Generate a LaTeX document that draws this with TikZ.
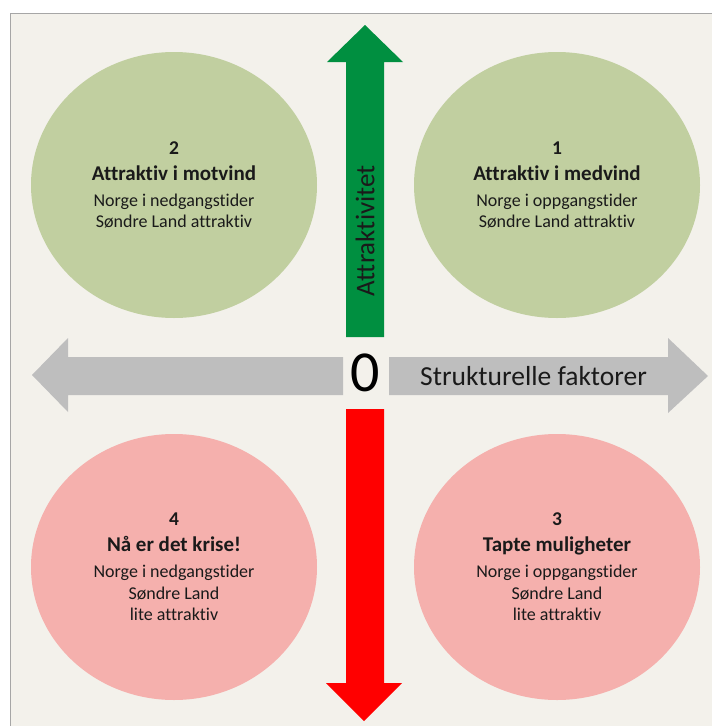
\documentclass[tikz,border=0pt]{standalone}
\usepackage{xcolor}
\usepackage{fontspec}
\setmainfont{Carlito}[Ligatures=NoCommon]
\usepackage{tikz}
\usetikzlibrary{shapes.geometric, positioning, calc}

\definecolor{paper}{HTML}{F3F1EB}
\definecolor{framegray}{HTML}{A6A6A6}
\definecolor{goodfill}{HTML}{C1CFA0}
\definecolor{badfill}{HTML}{F5B0AD}
\definecolor{upgreen}{HTML}{008F40}
\definecolor{downred}{HTML}{FF0000}
\definecolor{axisgray}{HTML}{BEBEBE}
\definecolor{ink}{HTML}{1A1A1A}

\begin{document}
\begin{tikzpicture}[x=1pt, y=-1pt,
	quad/.style={ellipse, minimum width=286pt, minimum height=266pt, inner sep=0pt,
		align=center, text=ink, font=\fontsize{18}{21.5}\selectfont},
	good/.style={quad, fill=goodfill},
	bad/.style={quad, fill=badfill}]
	\useasboundingbox (0,0) rectangle (712,726);
	\fill[white] (0,0) rectangle (712,726);
	\fill[paper] (10,13) rectangle (720,730);
	\draw[framegray, line width=1pt] (10,730) -- (10,13) -- (720,13);
	
	\node [good] (q2) at (174,185) {{\bfseries\fontsize{19.5}{21}\selectfont 2}\\[4.5pt]{\bfseries\fontsize{21}{21}\selectfont Attraktiv i motvind}\\[4.5pt]Norge i nedgangstider\\Søndre Land attraktiv};
	\node [good] (q1) at (557,185) {{\bfseries\fontsize{19.5}{21}\selectfont 1}\\[4.5pt]{\bfseries\fontsize{21}{21}\selectfont Attraktiv i medvind}\\[4.5pt]Norge i oppgangstider\\Søndre Land attraktiv};
	\node [bad] (q4) at (174,567) {{\bfseries\fontsize{19.5}{21}\selectfont 4}\\[4.5pt]{\bfseries\fontsize{21}{21}\selectfont Nå er det krise!}\\[4.5pt]Norge i nedgangstider\\Søndre Land\\lite attraktiv};
	\node [bad] (q3) at (557,567) {{\bfseries\fontsize{19.5}{21}\selectfont 3}\\[4.5pt]{\bfseries\fontsize{21}{21}\selectfont Tapte muligheter}\\[4.5pt]Norge i oppgangstider\\Søndre Land\\lite attraktiv};
	
	\fill[upgreen] (346,337) -- (346,62) -- (327,62) -- (365,25) -- (403,62) -- (384,62) -- (384,337) -- cycle;
	\fill[downred] (346,409) -- (346,683) -- (326,683) -- (364,721) -- (402,683) -- (384,683) -- (384,409) -- cycle;
	\fill[axisgray] (343,357) -- (68,357) -- (68,338) -- (32,375) -- (68,412) -- (68,395) -- (343,395) -- cycle;
	\fill[axisgray] (389,357) -- (668,357) -- (668,338) -- (708,376) -- (668,413) -- (668,395) -- (389,395) -- cycle;
	
	\node [font=\fontsize{58}{58}\selectfont, inner sep=0pt] (zero) at (365,373) {0};
	\node [rotate=90, font=\fontsize{27}{27}\selectfont, text=ink, inner sep=0pt] (ylab) at (365,231) {Attraktivitet};
	\node [anchor=west, font=\fontsize{27.5}{27.5}\selectfont, text=ink, inner sep=0pt] (xlab) at (420,376) {Strukturelle faktorer};
\end{tikzpicture}
\end{document}
